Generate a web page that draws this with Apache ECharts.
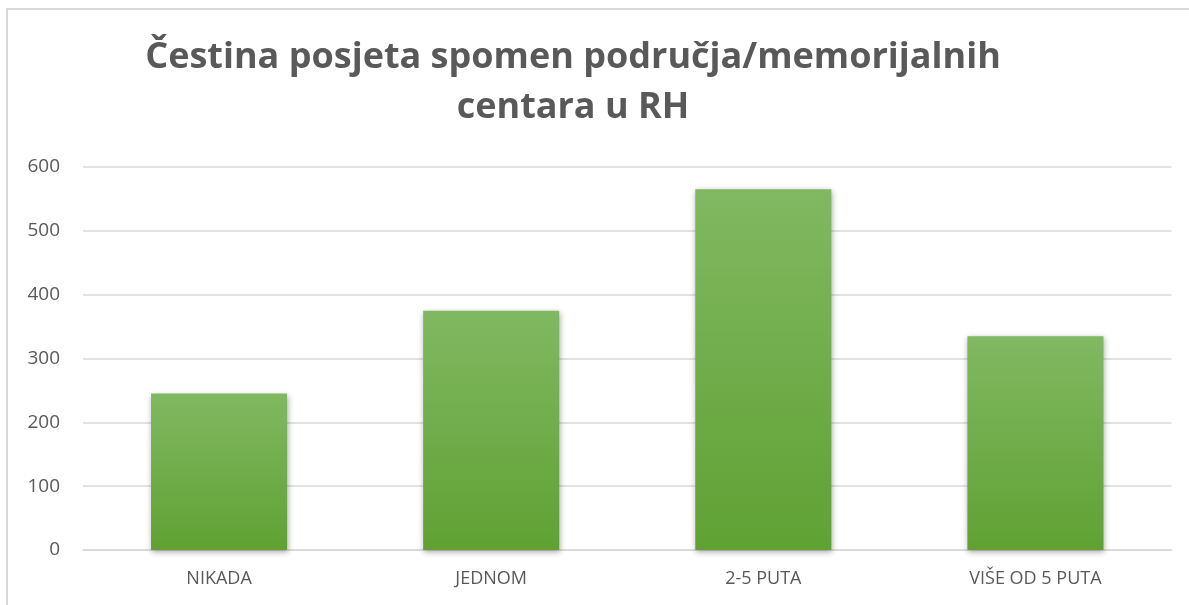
<!DOCTYPE html>
<html>
<head>
<meta charset="utf-8">
<script src="https://cdn.jsdelivr.net/npm/echarts@6/dist/echarts.min.js"></script>
<style>
html,body{margin:0;padding:0;background:#fff;}
#chart{width:1189px;height:605px;}
</style>
</head>
<body>
<div id="chart"></div>
<script>
var titleText = 'Čestina posjeta spomen područja/memorijalnih\ncentara u RH';
var categories = ['NIKADA', 'JEDNOM', '2-5 PUTA', 'VIŠE OD 5 PUTA'];
var values = [245, 375, 565, 335];
var yTicks = [0, 100, 200, 300, 400, 500, 600];

var chart = echarts.init(document.getElementById('chart'));
chart.setOption({
  backgroundColor: '#ffffff',
  animation: false,
  graphic: [{
    type: 'rect',
    shape: { x: 7, y: 9, width: 1300, height: 700 },
    style: { fill: 'none', stroke: '#d9d9d9', lineWidth: 2 },
    silent: true, z: -1
  }],
  title: {
    text: titleText,
    left: 568,
    top: 28,
    textAlign: 'center',
    textStyle: {
      fontFamily: 'Open Sans',
      fontWeight: 'bold',
      fontSize: 36,
      color: '#595959',
      lineHeight: 50
    }
  },
  grid: { left: 83, right: 17.5, top: 167, bottom: 55, containLabel: false },
  xAxis: {
    type: 'category',
    data: categories,
    axisLine: { show: true, lineStyle: { color: '#d9d9d9', width: 1.5 } },
    axisTick: { show: false },
    axisLabel: { color: '#595959', fontSize: 18, fontFamily: 'Open Sans', margin: 20 }
  },
  yAxis: {
    type: 'value',
    min: yTicks[0],
    max: yTicks[yTicks.length - 1],
    interval: yTicks[1] - yTicks[0],
    axisLine: { show: false },
    axisTick: { show: false },
    axisLabel: { color: '#595959', fontSize: 19, fontFamily: 'Open Sans', margin: 23 },
    splitLine: { lineStyle: { color: '#d9d9d9', width: 1.5 } }
  },
  series: [{
    type: 'bar',
    data: values,
    barWidth: '50%',
    itemStyle: {
      color: new echarts.graphic.LinearGradient(0, 0, 0, 1, [
        { offset: 0, color: '#81b862' },
        { offset: 1, color: '#60a133' }
      ]),
      shadowBlur: 6,
      shadowColor: 'rgba(0,0,0,0.35)',
      shadowOffsetX: 1,
      shadowOffsetY: 2
    }
  }]
});
</script>
</body>
</html>
